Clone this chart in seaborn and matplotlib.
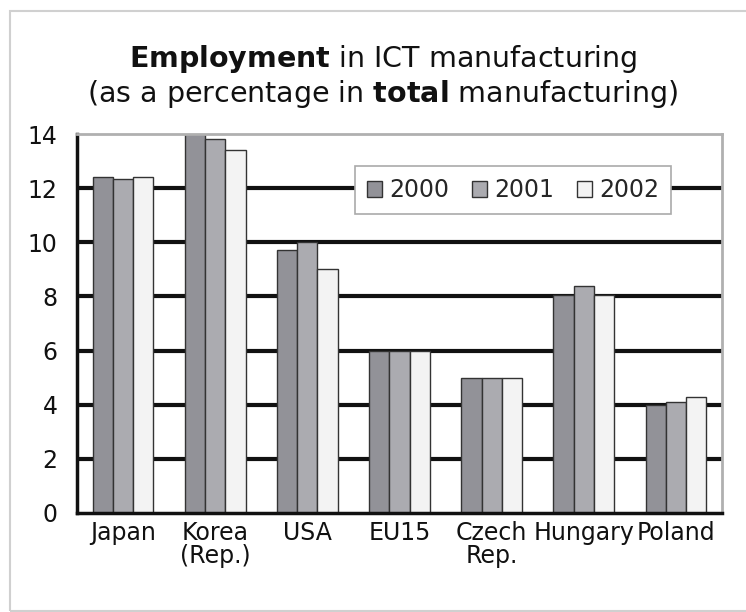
import matplotlib
matplotlib.use("Agg")
import matplotlib.pyplot as plt
import seaborn as sns
import pandas as pd
from matplotlib.patches import Rectangle

countries = ["Japan", "Korea\n(Rep.)", "USA", "EU15", "Czech\nRep.", "Hungary", "Poland"]
years = ["2000", "2001", "2002"]
v2000 = [12.4, 14.0, 9.7, 6.0, 5.0, 8.05, 4.0]
v2001 = [12.35, 13.8, 10.0, 6.0, 5.0, 8.4, 4.1]
v2002 = [12.4, 13.4, 9.0, 6.0, 5.0, 8.05, 4.3]
colors = ["#929298", "#ababb0", "#f3f3f3"]

df = pd.DataFrame({
    "country": countries * 3,
    "year": [y for y in years for _ in countries],
    "value": v2000 + v2001 + v2002,
})

sns.set_style("white")
plt.rcParams["font.family"] = ["DejaVu Sans"]
plt.rcParams["mathtext.fontset"] = "dejavusans"

fig = plt.figure(figsize=(7.46, 6.12), dpi=100)
ax = fig.add_axes([77 / 746, 1 - 513 / 612, 645 / 746, 379 / 612])

for y in [2, 4, 6, 8, 10, 12]:
    ax.axhline(y, color="#111111", lw=3, zorder=0)

sns.barplot(data=df, x="country", y="value", hue="year", palette=colors,
            width=0.66, edgecolor="#333333", linewidth=1.0, saturation=1,
            ax=ax, zorder=2)

ax.set_ylim(0, 14)
ax.set_xlim(-0.5, 6.5)
ax.set_yticks(range(0, 15, 2))
ax.set_xlabel("")
ax.set_ylabel("")

ax.set_xticks([i - 0.5 for i in range(8)], minor=True)
ax.tick_params(axis="x", which="major", length=0, labelsize=17, pad=6, colors="#111111")
ax.tick_params(axis="x", which="minor", length=5, width=2.5, direction="out", color="#111111")
ax.tick_params(axis="y", which="major", length=9, width=2.5, direction="out",
               labelsize=17, pad=5, colors="#111111")
for lab in ax.get_xticklabels():
    lab.set_linespacing(0.95)

for s in ["left", "bottom"]:
    ax.spines[s].set_color("#111111")
    ax.spines[s].set_linewidth(2.5)
for s in ["top", "right"]:
    ax.spines[s].set_color("#b0b0b0")
    ax.spines[s].set_linewidth(2)

leg = ax.legend(loc="center", bbox_to_anchor=(0.676, 0.852), ncol=3, frameon=True,
                fontsize=17, handlelength=0.65, handleheight=0.65, handletextpad=0.3,
                columnspacing=0.95, borderpad=0.5, fancybox=False, framealpha=1)
leg.get_frame().set_edgecolor("#aaaaaa")
leg.get_frame().set_linewidth(1.2)
leg.set_zorder(5)

fig.text(0.513, 1 - 67 / 612, r"$\bf{Employment}$ in ICT manufacturing", ha="center",
         va="baseline", fontsize=20.5, color="#111111")
fig.text(0.513, 1 - 102 / 612, r"(as a percentage in $\bf{total}$ manufacturing)", ha="center",
         va="baseline", fontsize=20.5, color="#111111")

fig.patches.append(Rectangle((10 / 746, 0.002), 1.2, 1 - 12 / 612, transform=fig.transFigure,
                             fill=False, edgecolor="#d0d0d0", lw=1.5))

fig.savefig("out.png", dpi=100)
